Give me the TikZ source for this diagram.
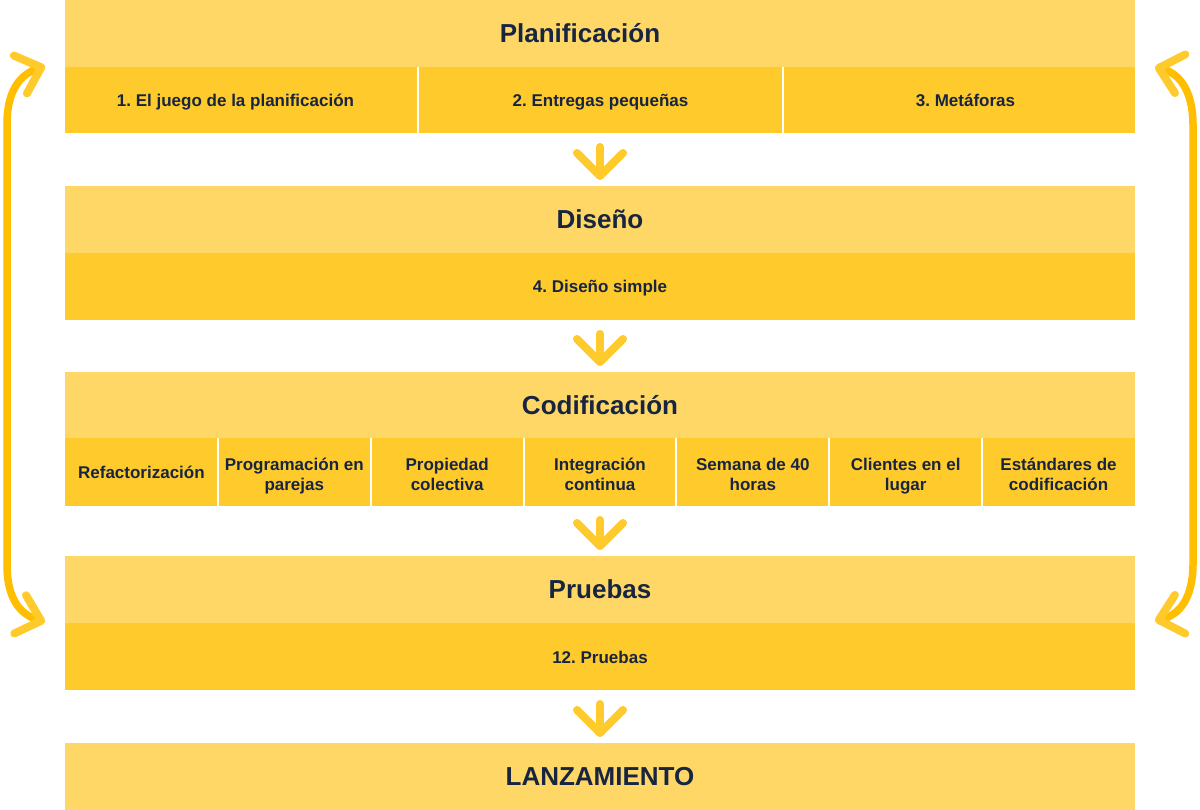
\documentclass[tikz,border=0pt]{standalone}
\usepackage{fontspec}
\setmainfont{Liberation Sans}
\frenchspacing
\usetikzlibrary{arrows.meta,calc}
\definecolor{hdr}{HTML}{FFD766}
\definecolor{subc}{HTML}{FFCA2C}
\definecolor{curvec}{HTML}{FFBF00}
\definecolor{ink}{HTML}{172541}
\begin{document}
\begin{tikzpicture}[x=1pt,y=-1pt,
  band/.style={draw=none, inner sep=0pt, outer sep=0pt, minimum width=1070pt, anchor=north west},
  hdrband/.style={band, fill=hdr, minimum height=67pt},
  subband/.style={band, fill=subc, minimum height=67pt},
  title/.style={inner sep=0pt, anchor=base, text=ink, font=\bfseries\fontsize{26}{30}\selectfont},
  cell/.style={inner sep=0pt, anchor=base, text=ink, font=\bfseries\fontsize{17}{20}\selectfont, align=center},
  sepline/.style={white, line width=2pt},
  downarr/.style={subc, line width=8pt, line cap=round, -{Straight Barb[length=23pt,width=46pt,round]}, shorten <=14pt, shorten >=6pt},
  sidearr/.style={curvec, line width=7.5pt, {Straight Barb[length=22pt,width=40pt,round,color=subc,line width=8pt]}-{Straight Barb[length=22pt,width=40pt,round,color=subc,line width=8pt]}},
]
\useasboundingbox (0,0) rectangle (1200,810);
\fill[white] (0,0) rectangle (1200,810);

% bands
\node[hdrband] (h1) at (65,0) {};
\node[subband, minimum height=66pt] (s1) at (65,67) {};
\node[hdrband] (h2) at (65,186) {};
\node[subband] (s2) at (65,253) {};
\node[hdrband, minimum height=66pt] (h3) at (65,372) {};
\node[subband, minimum height=68pt] (s3) at (65,438) {};
\node[hdrband] (h4) at (65,556) {};
\node[subband] (s4) at (65,623) {};
\node[hdrband] (h5) at (65,743) {};

% titles
\node[title] (t1) at ($(h1.center)+(-20,9)$) {Planificación};
\node[title] (t2) at ($(h2.center)+(0,9)$) {Diseño};
\node[title] (t3) at ($(h3.center)+(0,9)$) {Codificación};
\node[title] (t4) at ($(h4.center)+(0,9)$) {Pruebas};
\node[title] (t5) at ($(h5.center)+(0,9)$) {LANZAMIENTO};

% Planificación cells
\draw[sepline] ($(s1.north west)!0.33!(s1.north east)$) -- ($(s1.south west)!0.33!(s1.south east)$);
\draw[sepline] ($(s1.north west)!0.671!(s1.north east)$) -- ($(s1.south west)!0.671!(s1.south east)$);
\node[cell] (c11) at ($(s1.center)+(-364.5,6.5)$) {1. El juego de la planificación};
\node[cell] (c12) at ($(s1.center)+(0.5,6.5)$) {2. Entregas pequeñas};
\node[cell] (c13) at ($(s1.center)+(365.5,6.5)$) {3. Metáforas};

% Diseño
\node[cell] (c21) at ($(s2.center)+(0,6.5)$) {4. Diseño simple};

% Codificación cells
\foreach \k in {1,...,6}{
  \draw[sepline] ($(s3.north west)!\k/7!(s3.north east)$) -- ($(s3.south west)!\k/7!(s3.south east)$);
}
\node[cell] (c31) at ($($(s3.west)!1/14!(s3.east)$)+(0,6.5)$) {Refactorización};
\node[cell] (c32) at ($($(s3.west)!3/14!(s3.east)$)+(0,18)$) {Programación en\\parejas};
\node[cell] (c33) at ($($(s3.west)!5/14!(s3.east)$)+(0,18)$) {Propiedad\\colectiva};
\node[cell] (c34) at ($($(s3.west)!7/14!(s3.east)$)+(0,18)$) {Integración\\continua};
\node[cell] (c35) at ($($(s3.west)!9/14!(s3.east)$)+(0,18)$) {Semana de 40\\horas};
\node[cell] (c36) at ($($(s3.west)!11/14!(s3.east)$)+(0,18)$) {Clientes en el\\lugar};
\node[cell] (c37) at ($($(s3.west)!13/14!(s3.east)$)+(0,18)$) {Estándares de\\codificación};

% Pruebas
\node[cell] (c41) at ($(s4.center)+(0,6.5)$) {12. Pruebas};

% down arrows
\draw[downarr] (s1) -- (h2);
\draw[downarr] (s2) -- (h3);
\draw[downarr] (s3) -- (h4);
\draw[downarr] (s4) -- (h5);

% side loops
\coordinate (lt) at ($(s1.north west)+(-20,-1)$);
\coordinate (lb) at ($(s4.north west)+(-20,-1)$);
\coordinate (rt) at ($(s1.north east)+(20,0)$);
\coordinate (rb) at ($(s4.north east)+(20,-2)$);
\draw[sidearr] (lt) .. controls +(-26,9) and +(0,-32) .. ($(lt)+(-38,58)$) -- ($(lb)+(-38,-57)$) .. controls +(0,32) and +(-26,-8) .. (lb);
\draw[sidearr] (rt) .. controls +(26,7) and +(0,-32) .. ($(rt)+(38,58)$) -- ($(rb)+(38,-57)$) .. controls +(0,32) and +(26,-7) .. (rb);
\end{tikzpicture}
\end{document}
